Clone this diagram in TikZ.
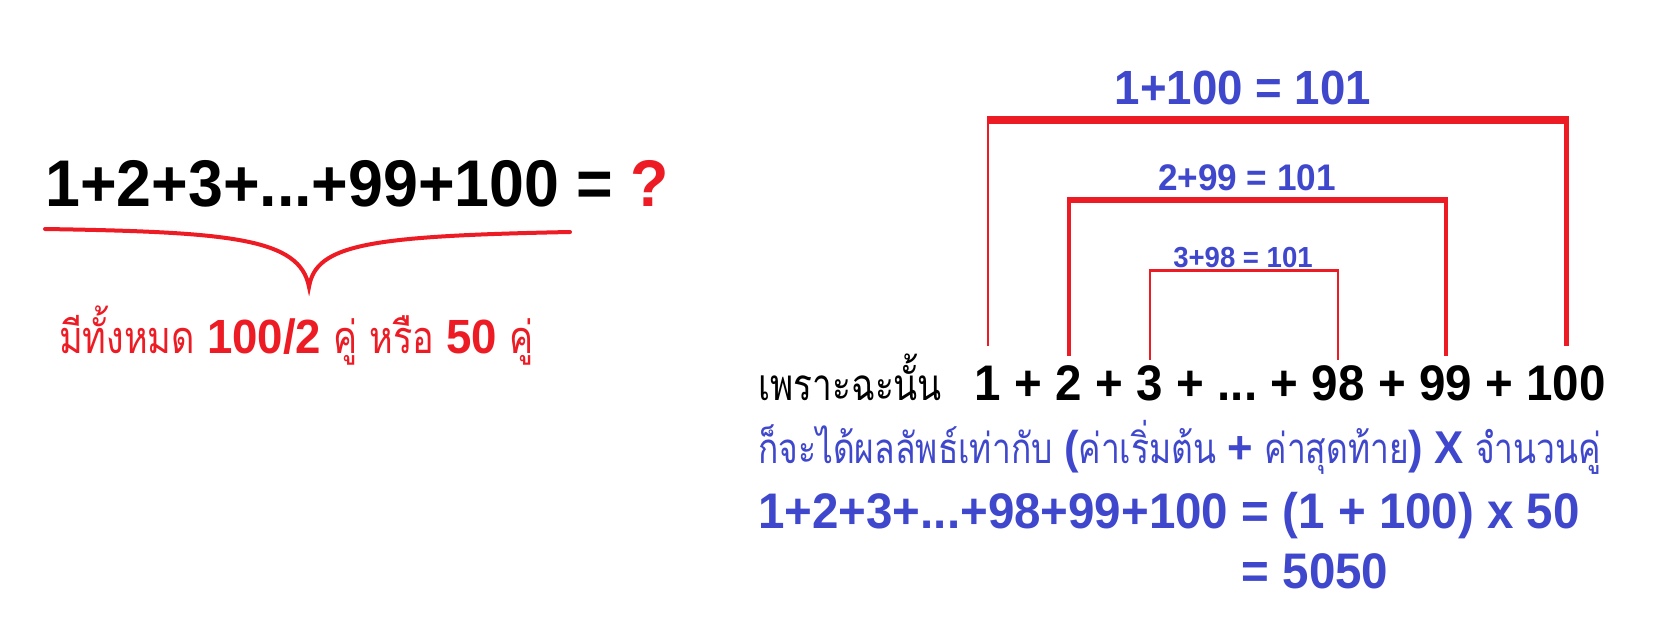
\documentclass[tikz,border=0pt]{standalone}
\usepackage{fontspec}
\setmainfont{Liberation Sans}
\newfontfamily\numfont{Liberation Sans}[FakeStretch=0.95]
\newfontfamily\thaifont[Script=Thai,FakeStretch=0.8]{Loma}
\usetikzlibrary{positioning}
\definecolor{paintred}{HTML}{ED1C24}
\definecolor{paintblue}{HTML}{3F48CC}
\newcommand{\numsize}[2]{{\numfont\bfseries\fontsize{#1}{#1}\selectfont #2}}

\begin{document}
\begin{tikzpicture}[
    x=1pt, y=-1pt,
    every node/.style={inner sep=0pt},
    bignum/.style={font=\numfont\bfseries\fontsize{66}{72}\selectfont},
    rownum/.style={font=\numfont\bfseries\fontsize{50}{56}\selectfont},
    calcnum/.style={font=\numfont\bfseries\fontsize{50}{56}\selectfont, text=paintblue},
    thai/.style={font=\thaifont\fontsize{#1}{#1}\selectfont},
    sumlbl/.style={font=\numfont\bfseries\fontsize{#1}{#1}\selectfont, text=paintblue},
    bra/.style={draw=paintred, line cap=butt},
    node distance=13pt
  ]
    \useasboundingbox[fill=white] (0,0) rectangle (1673,639);

    % left: the question and its brace
    \node[bignum, anchor=base west] (lsum) at (45,207) {1+2+3+...+99+100 = \textcolor{paintred}{?}};
    \coordinate (bl) at (45,229);
    \coordinate (btip) at (309,287);
    \coordinate (br) at (570,232);
    \draw[bra, line width=4pt, line cap=round] (bl) .. controls (230,232) and (300,238) .. (btip)
      .. controls (316,244) and (370,236) .. (br);
    \node[thai=45, anchor=base west, text=paintred] (pairs) at (59,353)
      {มีทั้งหมด \numsize{48}{100/2} คู่ หรือ \numsize{48}{50} คู่};

    % right: the paired row
    \node[thai=44, anchor=base west] (hence) at (758,400) {เพราะฉะนั้น};
    \node[rownum, anchor=base] (n1) at (988,400) {1};
    \node[rownum, base right=of n1] (p1) {+};
    \node[rownum, base right=of p1] (n2) {2};
    \node[rownum, base right=of n2] (p2) {+};
    \node[rownum, base right=of p2] (n3) {3};
    \node[rownum, base right=of n3] (p3) {+};
    \node[rownum, base right=of p3] (dots) {...};
    \node[rownum, base right=of dots] (p4) {+};
    \node[rownum, base right=of p4] (n98) {98};
    \node[rownum, base right=of n98] (p5) {+};
    \node[rownum, base right=of p5] (n99) {99};
    \node[rownum, base right=of n99] (p6) {+};
    \node[rownum, base right=of p6] (n100) {100};

    \coordinate (top1) at (0,120);
    \coordinate (top2) at (0,200);
    \coordinate (top3) at (0,270.5);

    \draw[bra, line width=2.5pt] ([yshift=19pt]n1.north) -- (n1 |- top1);
    \draw[bra, line width=5pt] ([yshift=19pt]n100.north) -- (n100 |- top1);
    \draw[bra, line width=8pt] ([xshift=-1.25pt]n1 |- top1) -- ([xshift=2.5pt]n100 |- top1);

    \draw[bra, line width=4pt] ([yshift=9pt]n2.north) -- (n2 |- top2);
    \draw[bra, line width=4pt] ([yshift=9pt]n99.north) -- (n99 |- top2);
    \draw[bra, line width=6pt] ([xshift=-2pt]n2 |- top2) -- ([xshift=2pt]n99 |- top2);

    \draw[bra, line width=2pt] ([yshift=5pt]n3.north) -- (n3 |- top3);
    \draw[bra, line width=2pt] ([yshift=5pt]n98.north) -- (n98 |- top3);
    \draw[bra, line width=2.5pt] ([xshift=-1pt]n3 |- top3) -- ([xshift=1pt]n98 |- top3);

    \node[sumlbl=48, anchor=base] (s1) at (1243,105) {1+100 = 101};
    \node[sumlbl=37, anchor=base] (s2) at (1247,191) {2+99 = 101};
    \node[sumlbl=29, anchor=base] (s3) at (1243,267) {3+98 = 101};

    % right: the rule and the result
    \node[thai=42, anchor=base west, text=paintblue] (rule) at (758,463)
      {ก็จะได้ผลลัพธ์เท่ากับ \numsize{46}{(}ค่าเริ่มต้น \numsize{46}{+} ค่าสุดท้าย\numsize{46}{)} \numsize{46}{X} จำนวนคู่};
    \node[calcnum, anchor=base west] (lhs) at (758,528) {1+2+3+...+98+99+100};
    \node[calcnum, base right=of lhs] (rhs) {= (1 + 100) x 50};
    \node[calcnum, anchor=base west] (total) at ([yshift=-60pt]rhs.base west) {= 5050};
  \end{tikzpicture}
\end{document}
